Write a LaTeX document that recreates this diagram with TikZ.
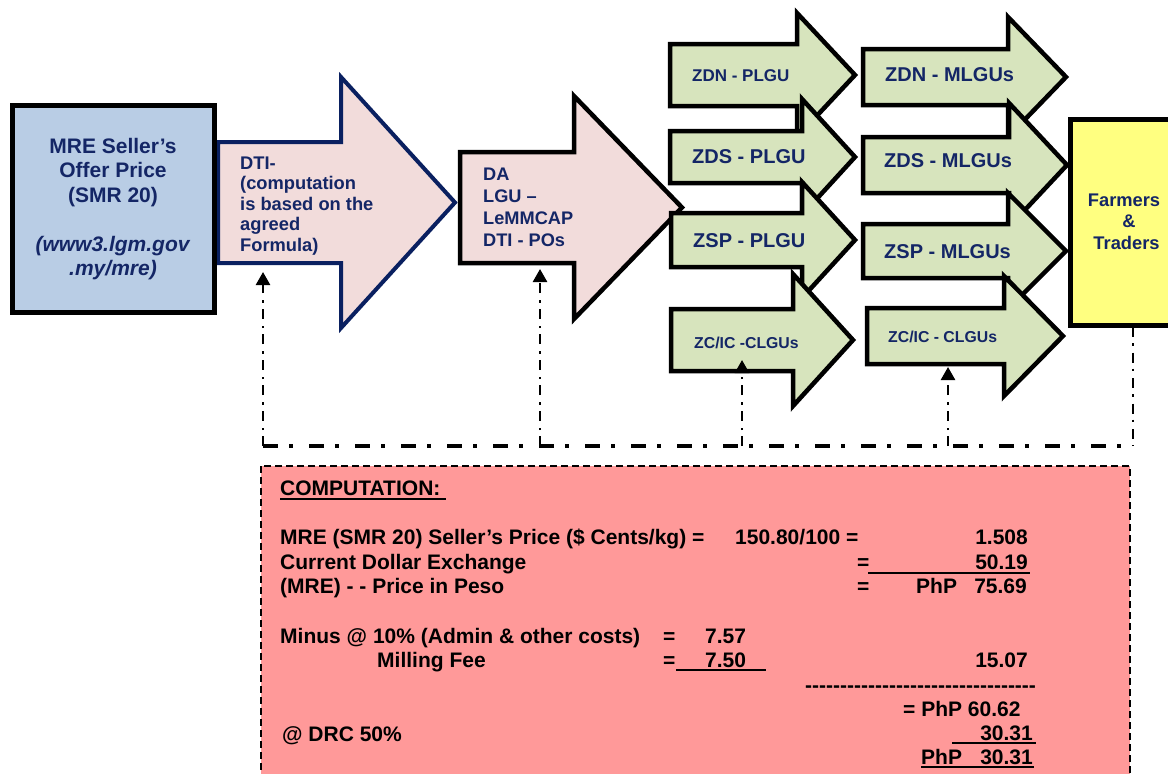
\documentclass[tikz,border=0pt]{standalone}
\usepackage{fontspec}
\setmainfont{Liberation Sans}
\usetikzlibrary{arrows.meta}

\definecolor{navytext}{RGB}{20,38,102}
\definecolor{navyline}{RGB}{10,32,96}
\definecolor{boxblue}{HTML}{B9CDE5}
\definecolor{pinkfill}{HTML}{F2DCDB}
\definecolor{greenfill}{HTML}{D7E4BD}
\definecolor{farmyellow}{HTML}{FFFF80}
\definecolor{compfill}{HTML}{FF9999}

% block arrow: style, left x, centre y, shaft half-height, head x, head half-height, tip x
\newcommand\blockarrow[7]{%
  \path[#1] (#2,{#3-#4}) -- (#5,{#3-#4}) -- (#5,{#3-#6}) -- (#7,#3)
    -- (#5,{#3+#6}) -- (#5,{#3+#4}) -- (#2,{#3+#4}) -- cycle;}

\tikzset{
  lbl/.style={text=navytext, inner sep=0pt, anchor=base west},
  greenarrow/.style={draw=black, fill=greenfill, line width=4.5pt},
  comp/.style={font=\fontsize{21}{24}\selectfont\bfseries, inner sep=0pt, text=black},
  bus/.style={line width=4pt, dash pattern=on 15pt off 11pt on 4pt off 16pt},
  feed/.style={line width=2.5pt, dash pattern=on 10pt off 6pt on 2.5pt off 7pt},
  feedarrow/.style={feed, -{Triangle[width=14pt,length=13pt]}},
  uline/.style={line width=2pt},
}

\begin{document}
\begin{tikzpicture}[x=1pt, y=-1pt, line join=miter]
\useasboundingbox (0,0) rectangle (1168,774);

% DTI arrow (multi-line labels are placed by the baseline of their last line)
\blockarrow{draw=navyline, fill=pinkfill, line width=4pt}{218}{202.5}{60.5}{341}{125.5}{455}
\node[lbl, align=left, font=\fontsize{18.3}{20.5}\selectfont\bfseries] (dti) at (240,251)
  {DTI-\\(computation\\is based on the\\agreed\\Formula)};

% source price box
\node[draw=black, line width=5pt, fill=boxblue, minimum width=202pt, minimum height=207pt,
  inner sep=0pt, align=center, text=navytext, font=\fontsize{21}{24.5}\selectfont\bfseries]
  (mre) at (113,209)
  {MRE Seller’s\\Offer Price\\(SMR 20)\\[24.5pt]\textit{(www3.lgm.gov}\\\textit{.my/mre)}};

% DA arrow
\blockarrow{draw=black, fill=pinkfill, line width=4.5pt}{460}{207.5}{55.5}{574}{111.5}{682}
\node[lbl, align=left, font=\fontsize{18.2}{21.7}\selectfont\bfseries] (da) at (483,246)
  {DA\\LGU –\\LeMMCAP\\DTI - POs};

% provincial level
\blockarrow{greenarrow}{670}{75}{31}{797}{62}{855}
\blockarrow{greenarrow}{670}{157}{26}{802}{58}{855}
\blockarrow{greenarrow}{671}{240}{27}{802}{58}{855}
\blockarrow{greenarrow}{671}{340}{31}{793}{66}{853}
\node[lbl, font=\fontsize{17}{20}\selectfont\bfseries] (p1) at (692,81) {ZDN - PLGU};
\node[lbl, font=\fontsize{20}{24}\selectfont\bfseries] (p2) at (692,163) {ZDS - PLGU};
\node[lbl, font=\fontsize{20}{24}\selectfont\bfseries] (p3) at (693,247) {ZSP - PLGU};
\node[lbl, font=\fontsize{15.8}{19}\selectfont\bfseries] (p4) at (694,348) {ZC/IC -CLGUs};

% municipal level
\blockarrow{greenarrow}{863}{77}{28}{1008}{60}{1066}
\blockarrow{greenarrow}{863}{165}{28}{1009}{62}{1067}
\blockarrow{greenarrow}{863}{251}{27}{1008}{58}{1066}
\blockarrow{greenarrow}{867}{336}{28}{1004}{60}{1063}
\node[lbl, font=\fontsize{20}{24}\selectfont\bfseries] (m1) at (885,81) {ZDN - MLGUs};
\node[lbl, font=\fontsize{20}{24}\selectfont\bfseries] (m2) at (884,167) {ZDS - MLGUs};
\node[lbl, font=\fontsize{20}{24}\selectfont\bfseries] (m3) at (884,258) {ZSP - MLGUs};
\node[lbl, font=\fontsize{15.8}{19}\selectfont\bfseries] (m4) at (888,342) {ZC/IC - CLGUs};

% end users
\path[draw=black, fill=farmyellow, line width=5pt] (1070,119) rectangle (1200,325);
\node[text=navytext, inner sep=0pt, anchor=base, align=center,
  font=\fontsize{18.3}{21.5}\selectfont\bfseries] (farm) at (1124,249) {Farmers\\\ \ \&\\\ Traders};

% feedback lines
\coordinate (b1) at (263,446);
\coordinate (b2) at (540,446);
\coordinate (b3) at (742,446);
\coordinate (b4) at (948,446);
\coordinate (b5) at (1133,446);
\coordinate (dtiS) at (263,272);
\coordinate (daS) at (540,269);
\coordinate (p4S) at (742,360);
\coordinate (m4S) at (948,367);
\coordinate (farmS) at (1133,327);
\draw[bus] (b1) -- (b5);
\draw[feedarrow] (b1) -- (dtiS);
\draw[feedarrow] (b2) -- (daS);
\draw[feedarrow] (b3) -- (p4S);
\draw[feedarrow] (b4) -- (m4S);
\draw[feed] (farmS) -- (b5);

% computation panel
\draw[fill=compfill, line width=2pt, dash pattern=on 7pt off 4pt] (261,466) rectangle (1130,790);

\node[comp, anchor=base west] (c0) at (280,495) {COMPUTATION:};
\draw[uline] (280,499) -- (446,499);

\node[comp, anchor=base west] (c1) at (280,544) {MRE (SMR 20) Seller’s Price (\$ Cents/kg) =};
\node[comp, anchor=base west] (c1b) at (735,544) {150.80/100 =};
\node[comp, anchor=base east] (c1c) at (1028,544) {1.508};

\node[comp, anchor=base west] (c2) at (280,569) {Current Dollar Exchange};
\node[comp, anchor=base west] (c2b) at (857,569) {=};
\node[comp, anchor=base east] (c2c) at (1028,569) {50.19};
\draw[uline] (868,573) -- (1030,573);

\node[comp, anchor=base west] (c3) at (280,593) {(MRE) - - Price in Peso};
\node[comp, anchor=base west] (c3b) at (857,593) {=};
\node[comp, anchor=base west] (c3c) at (916,593) {PhP};
\node[comp, anchor=base east] (c3d) at (1027,593) {75.69};

\node[comp, anchor=base west] (c4) at (280,643) {Minus @ 10\% (Admin \& other costs)};
\node[comp, anchor=base west] (c4b) at (663,643) {=};
\node[comp, anchor=base west] (c4c) at (705,643) {7.57};

\node[comp, anchor=base west] (c5) at (377,667) {Milling Fee};
\node[comp, anchor=base west] (c5b) at (663,667) {=};
\node[comp, anchor=base west] (c5c) at (705,667) {7.50};
\draw[uline] (676,670) -- (766,670);
\node[comp, anchor=base east] (c5d) at (1028,667) {15.07};

\node[comp, anchor=base west] (c6) at (805,692)
  {-{}-{}-{}-{}-{}-{}-{}-{}-{}-{}-{}-{}-{}-{}-{}-{}-{}-{}-{}-{}-{}-{}-{}-{}-{}-{}-{}-{}-{}-{}-{}-{}-{}};

\node[comp, anchor=base west] (c7) at (903,716) {= PhP 60.62};
\node[comp, anchor=base west] (c8) at (282,741) {@ DRC 50\%};
\node[comp, anchor=base east] (c8b) at (1033,740) {30.31};
\draw[uline] (952,743) -- (1036,743);
\node[comp, anchor=base west] (c9) at (921,764) {PhP};
\node[comp, anchor=base east] (c9b) at (1033,764) {30.31};
\draw[uline] (921,767) -- (1034,767);
\end{tikzpicture}
\end{document}
